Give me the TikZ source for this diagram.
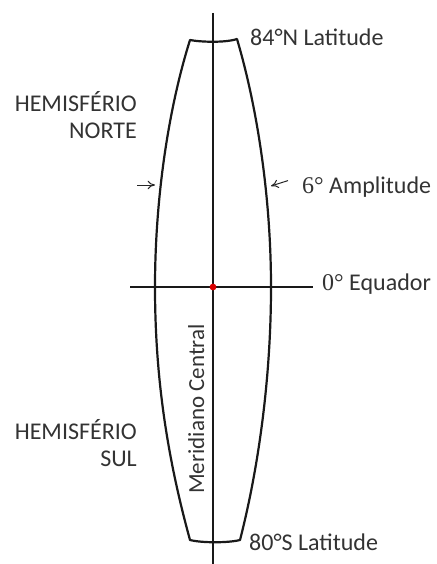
\documentclass[tikz,border=0pt]{standalone}
\usepackage{fontspec}
\setmainfont{Carlito}
\newfontfamily\degfont{Liberation Serif}
\usepackage{xcolor}
\usepackage{tikz}
\usetikzlibrary{arrows.meta, positioning, calc}

\begin{document}
\begin{tikzpicture}[
        x=1pt, y=-1pt,
        label/.style={inner sep=0pt, text=black!80, font=\fontsize{24}{27}\selectfont},
        axis/.style={line width=2.2pt, black!90},
        zone/.style={line width=2.2pt, black!90, line join=round},
        amp/.style={-{To[length=2.6mm, width=3mm]}, line width=1pt, black!85}
    ]
        \useasboundingbox (0,0) rectangle (436,564);

        % coordinates of the zone
        \coordinate (north) at (213,13);
        \coordinate (south) at (213,564);
        \coordinate (west) at (130,287);
        \coordinate (east) at (313,287);
        \coordinate (ampL) at (155,185);
        \coordinate (ampR) at (271,186);
        \coordinate (ampStart) at (137,185);

        % the zone itself
        \draw[zone] (190,40) .. controls (200,42) and (225,43) .. (237,39)
            .. controls (258,110) and (271,200) .. (271,287)
            .. controls (271,380) and (258,470) .. (240,540)
            .. controls (228,543) and (202,543) .. (190,540)
            .. controls (168,460) and (155,380) .. (155,287)
            .. controls (155,200) and (168,110) .. (190,40) -- cycle;

        % meridian and equator
        \draw[axis] (north) -- (south);
        \draw[axis] (west) -- (east);
        \fill[red!85!black] (213,287) circle (3.4);

        \node[label, anchor=base west] (lat84) at (250,46) {84°N Latitude};
        \node[label, anchor=base west] (lat80) at (249,550) {80°S Latitude};
        \node[label, anchor=base west] (equador) at (322,290) {{\degfont 0°} Equador};
        \node[label, anchor=base west] (amplitude) at (302,193) {{\degfont 6°} Amplitude};
        \node[label, anchor=north east, align=right] (hnorte) at (137,91) {HEMISFÉRIO\\NORTE};
        \node[label, anchor=north east, align=right] (hsul) at (137,419) {HEMISFÉRIO\\SUL};
        \node[label, font=\fontsize{23}{26}\selectfont, rotate=90, anchor=base] (meridiano) at (204,409) {Meridiano Central};

        \draw[amp] (ampStart) -- (ampL);
        \draw[amp] ($(amplitude.west)+(-14,-6)$) -- (ampR);
    \end{tikzpicture}
\end{document}
